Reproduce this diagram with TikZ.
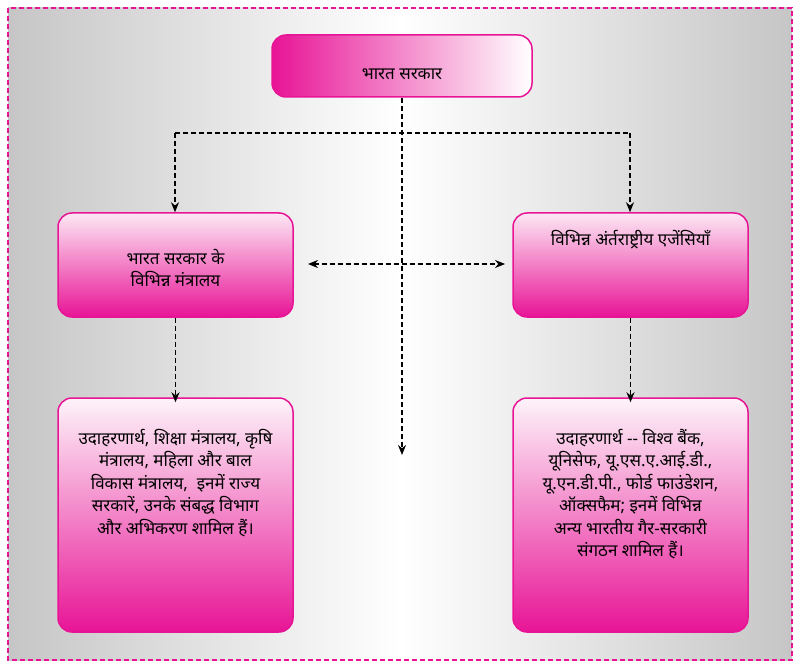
\documentclass[tikz,border=0pt]{standalone}
\usepackage{fontspec}
\newfontfamily\dev[Script=Devanagari]{Noto Sans}
\usetikzlibrary{arrows.meta}
\definecolor{mag}{RGB}{232,20,150}
\tikzset{
 box/.style={draw=mag,line width=1.5pt,rounded corners=14pt},
 txt/.style={font=\dev\fontsize{17}{22.5}\selectfont,align=center,text=black},
 dsh/.style={dash pattern=on 5pt off 3pt,line width=1.3pt},
 conn/.style={dsh,-{Stealth[length=10pt,width=8pt]}},
}
\begin{document}
\begin{tikzpicture}[x=1pt,y=-1pt]
\useasboundingbox (0,0) rectangle (800,668);
\shade[left color=gray!45,right color=gray!45,middle color=white] (8,8) rectangle (792,660);
\draw[mag,dash pattern=on 5pt off 3pt,line width=1.5pt] (8,8) rectangle (792,660);
\node[box,left color=mag,right color=white,minimum width=260pt,minimum height=62pt] (top) at (402,66) {};
\node[txt] (toptxt) at (402,74) {भारत सरकार};
\node[box,top color=mag!10,bottom color=mag,minimum width=235pt,minimum height=104pt] (lm) at (175.5,265) {};
\node[txt] (lmtxt) at (175.5,268) {भारत सरकार के\\विभिन्न मंत्रालय};
\node[box,top color=mag!10,bottom color=mag,minimum width=235pt,minimum height=104pt] (rm) at (630.5,265) {};
\node[txt] (rmtxt) at (630.5,240) {विभिन्न अंर्तराष्ट्रीय एजेंसियाँ};
\node[box,top color=mag!5,bottom color=mag,minimum width=235pt,minimum height=234pt] (lb) at (175.5,515) {};
\node[txt] (lbtxt) at (175.5,483) {उदाहरणार्थ, शिक्षा मंत्रालय, कृषि\\मंत्रालय, महिला और बाल\\विकास मंत्रालय,\ \ इनमें राज्य\\सरकारें, उनके संबद्ध विभाग\\और अभिकरण शामिल हैं।};
\node[box,top color=mag!5,bottom color=mag,minimum width=235pt,minimum height=234pt] (rb) at (630.5,515) {};
\node[txt] (rbtxt) at (630.5,494) {उदाहरणार्थ -- विश्व बैंक,\\यूनिसेफ, यू.एस.ए.आई.डी.,\\यू.एन.डी.पी., फोर्ड फाउंडेशन,\\ऑक्सफैम; इनमें विभिन्न\\अन्य भारतीय गैर-सरकारी\\संगठन शामिल हैं।};
\coordinate (bl) at (175,133);
\coordinate (br) at (630,133);
\coordinate (downend) at (402,455);
\coordinate (hl) at (308,264);
\coordinate (hr) at (505,264);
\draw[conn] (top.south) -- (downend);
\draw[dsh] (bl) -- (br);
\draw[conn] (bl) -- (lm.north -| bl);
\draw[conn] (br) -- (rm.north -| br);
\draw[dsh,{Stealth[length=10pt,width=8pt]}-{Stealth[length=10pt,width=8pt]}] (hl) -- (hr);
\draw[conn] (lm.south) -- ([yshift=-5pt]lb.north);
\draw[conn] (rm.south) -- ([yshift=-5pt]rb.north);
\end{tikzpicture}
\end{document}
